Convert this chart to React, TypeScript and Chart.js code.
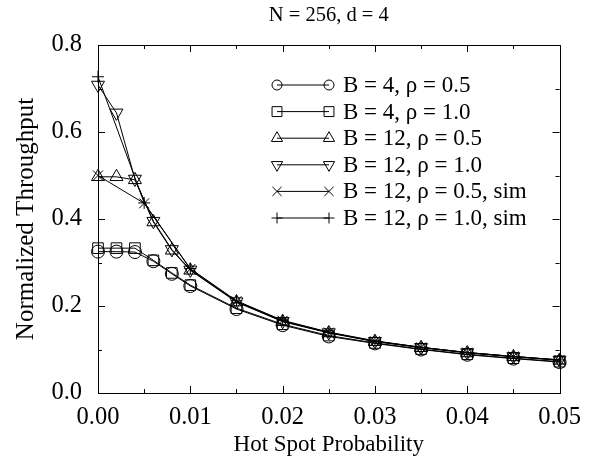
import React, { useEffect, useRef } from "react";
import { Chart, registerables } from "chart.js";
import { drawPoint } from "chart.js/helpers";

Chart.register(...registerables);

// Hot spot probability sampled by the analytical model
const modelProb = [0, 0.002, 0.004, 0.006, 0.008, 0.01, 0.015, 0.02, 0.025, 0.03, 0.035, 0.04, 0.045, 0.05];
// Hot spot probability sampled by the simulator
const simProb = [0, 0.005, 0.01, 0.015, 0.02, 0.025, 0.03, 0.035, 0.04, 0.045, 0.05];

const b4rho05 = [0.325, 0.325, 0.324, 0.303, 0.274, 0.246, 0.193, 0.156, 0.13, 0.114, 0.1, 0.088, 0.079, 0.071];
const b4rho10 = [0.333, 0.333, 0.333, 0.305, 0.276, 0.248, 0.195, 0.158, 0.132, 0.115, 0.101, 0.089, 0.08, 0.072];
const b12rho05 = [0.497, 0.497, 0.49, 0.393, 0.328, 0.282, 0.209, 0.164, 0.138, 0.118, 0.104, 0.092, 0.083, 0.075];
const b12rho10 = [0.708, 0.644, 0.492, 0.395, 0.33, 0.283, 0.21, 0.165, 0.139, 0.119, 0.105, 0.093, 0.084, 0.076];
const b12rho05sim = [0.5, 0.436, 0.285, 0.211, 0.166, 0.139, 0.119, 0.105, 0.093, 0.084, 0.076];
const b12rho10sim = [0.727, 0.437, 0.286, 0.212, 0.167, 0.14, 0.12, 0.105, 0.093, 0.084, 0.076];

const seriesLabels = [
  "B = 4, \u03C1 = 0.5",
  "B = 4, \u03C1 = 1.0",
  "B = 12, \u03C1 = 0.5",
  "B = 12, \u03C1 = 1.0",
  "B = 12, \u03C1 = 0.5, sim",
  "B = 12, \u03C1 = 1.0, sim",
];

const titleText = "N = 256, d = 4";
const xTitle = "Hot Spot Probability";
const yTitle = "Normalized Throughput";

const FONT = "'Liberation Serif', 'Times New Roman', serif";
const TICK_SIZE = 24.5;
const X_TITLE_SIZE = 23;
const Y_TITLE_SIZE = 25;
const TITLE_SIZE = 20.5;
const LEGEND_SIZE = 23;

const toPoints = (xs: number[], ys: number[]) => xs.map((x, i) => ({ x, y: ys[i] }));

// Plot markers, and the smaller copies used in the legend
const markers = [
  { pointStyle: "circle", pointRadius: 6.5, pointRotation: 0, legendRadius: 5 },
  { pointStyle: "rect", pointRadius: 7.5, pointRotation: 0, legendRadius: 7 },
  { pointStyle: "triangle", pointRadius: 7.5, pointRotation: 0, legendRadius: 6.5 },
  { pointStyle: "triangle", pointRadius: 7.5, pointRotation: 180, legendRadius: 6.5 },
  { pointStyle: "crossRot", pointRadius: 7, pointRotation: 0, legendRadius: 6.5 },
  { pointStyle: "cross", pointRadius: 6, pointRotation: 0, legendRadius: 5.5 },
];

// Frame with inward ticks on all four sides, a title above the plot, and the inset legend
const decorations = {
  id: "decorations",
  afterDatasetsDraw(chart: any) {
    const { ctx, chartArea } = chart;
    const { left, right, top, bottom } = chartArea;
    ctx.save();
    ctx.strokeStyle = "#000";
    ctx.lineWidth = 1;
    ctx.strokeRect(Math.round(left) + 0.5, Math.round(top) + 0.5, Math.round(right - left), Math.round(bottom - top));

    const xs = chart.scales.x;
    xs.ticks.forEach((t: any) => {
      const px = Math.round(xs.getPixelForValue(t.value)) + 0.5;
      const len = t.label !== "" ? 7 : 4;
      ctx.beginPath();
      ctx.moveTo(px, bottom);
      ctx.lineTo(px, bottom - len);
      ctx.moveTo(px, top);
      ctx.lineTo(px, top + len);
      ctx.stroke();
    });
    const ys = chart.scales.y;
    ys.ticks.forEach((t: any) => {
      const py = Math.round(ys.getPixelForValue(t.value)) + 0.5;
      const len = t.label !== "" ? 7 : 4;
      ctx.beginPath();
      ctx.moveTo(left, py);
      ctx.lineTo(left + len, py);
      ctx.moveTo(right, py);
      ctx.lineTo(right - len, py);
      ctx.stroke();
    });

    // Title centred over the plot area
    ctx.fillStyle = "#000";
    ctx.font = `${TITLE_SIZE}px ${FONT}`;
    ctx.textAlign = "center";
    ctx.textBaseline = "middle";
    ctx.fillText(titleText, (left + right) / 2, 16);

    // Legend: a line sample with a marker at each end, then the label
    const x0 = left + 179;
    const x1 = left + 231;
    ctx.font = `${LEGEND_SIZE}px ${FONT}`;
    ctx.textAlign = "left";
    chart.data.datasets.forEach((ds: any, i: number) => {
      const y = top + 40 + i * 26.6;
      ctx.strokeStyle = ds.borderColor;
      ctx.lineWidth = ds.borderWidth;
      ctx.beginPath();
      ctx.moveTo(x0, y);
      ctx.lineTo(x1, y);
      ctx.stroke();
      ctx.fillStyle = "rgba(0,0,0,0)";
      const opts = {
        pointStyle: ds.pointStyle,
        radius: markers[i].legendRadius,
        rotation: ds.pointRotation,
        borderWidth: 1,
      };
      drawPoint(ctx, opts, x0, y);
      drawPoint(ctx, opts, x1, y);
      ctx.fillStyle = "#000";
      ctx.fillText(ds.label, left + 245, y + 1);
    });
    ctx.restore();
  },
};

export default function App() {
  const canvasRef = useRef<HTMLCanvasElement | null>(null);

  useEffect(() => {
    const canvas = canvasRef.current;
    if (!canvas) return;
    const seriesData = [
      toPoints(modelProb, b4rho05),
      toPoints(modelProb, b4rho10),
      toPoints(modelProb, b12rho05),
      toPoints(modelProb, b12rho10),
      toPoints(simProb, b12rho05sim),
      toPoints(simProb, b12rho10sim),
    ];
    const chart = new Chart(canvas, {
      type: "line",
      data: {
        datasets: seriesData.map((data, i) => ({
          label: seriesLabels[i],
          data,
          borderColor: "#000",
          borderWidth: 1,
          backgroundColor: "rgba(0,0,0,0)",
          pointBackgroundColor: "rgba(0,0,0,0)",
          pointBorderColor: "#000",
          pointBorderWidth: 1,
          pointStyle: markers[i].pointStyle,
          pointRadius: markers[i].pointRadius,
          pointRotation: markers[i].pointRotation,
          tension: 0,
          fill: false,
          clip: false,
        })),
      },
      options: {
        animation: false,
        responsive: false,
        events: [],
        layout: { padding: { top: 45, right: 29, left: 0, bottom: 0 } },
        plugins: {
          legend: { display: false },
          title: { display: false },
          tooltip: { enabled: false },
        },
        scales: {
          x: {
            type: "linear",
            min: 0,
            max: 0.05,
            grid: { display: false, drawTicks: false },
            border: { display: false },
            afterFit: (s: any) => {
              s.height = 71;
            },
            ticks: {
              stepSize: 0.005,
              autoSkip: false,
              maxRotation: 0,
              padding: 10,
              color: "#000",
              font: { family: FONT, size: TICK_SIZE },
              callback: (v: any) => {
                const n = Math.round(Number(v) * 200);
                return n % 2 === 0 ? (n / 200).toFixed(2) : "";
              },
            },
            title: {
              display: true,
              text: xTitle,
              color: "#000",
              font: { family: FONT, size: X_TITLE_SIZE },
              padding: { top: 0, bottom: 5 },
            },
          },
          y: {
            type: "linear",
            min: 0,
            max: 0.8,
            grid: { display: false, drawTicks: false },
            border: { display: false },
            afterFit: (s: any) => {
              s.width = 98;
            },
            ticks: {
              stepSize: 0.1,
              autoSkip: false,
              padding: 16,
              color: "#000",
              font: { family: FONT, size: TICK_SIZE },
              callback: (v: any) => {
                const n = Math.round(Number(v) * 10);
                return n % 2 === 0 ? (n / 10).toFixed(1) : "";
              },
            },
            title: {
              display: true,
              text: yTitle,
              color: "#000",
              font: { family: FONT, size: Y_TITLE_SIZE },
              padding: { top: 11, bottom: 0 },
            },
          },
        },
      },
      plugins: [decorations],
    } as any);
    return () => chart.destroy();
  }, []);

  return (
    <div style={{ position: "fixed", left: 0, top: 0, width: 591, height: 464, background: "#fff" }}>
      <canvas ref={canvasRef} width={591} height={464} />
    </div>
  );
}
